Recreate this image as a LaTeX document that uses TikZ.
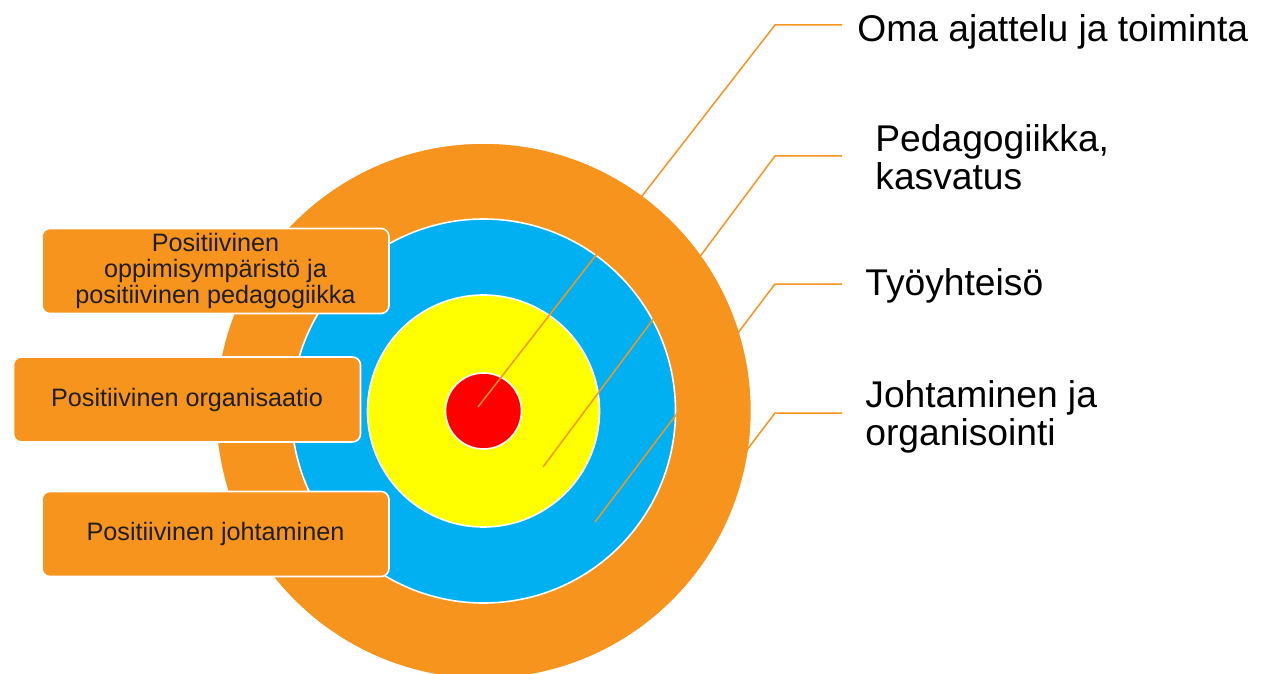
\documentclass[tikz,border=0pt]{standalone}
\usepackage{fontspec}
\setmainfont{Liberation Sans}
\definecolor{RingOrange}{RGB}{247, 148, 30}
\definecolor{RingBlue}{RGB}{0, 176, 240}
\definecolor{RingYellow}{RGB}{255, 255, 0}
\definecolor{RingRed}{RGB}{255, 0, 0}
\definecolor{BoxText}{RGB}{30, 30, 30}

\begin{document}
\begin{tikzpicture}[
    x=0.5pt, y=-0.5pt,
    ring/.style={circle, draw=white, line width=0.8pt, inner sep=0pt},
    level box/.style={rounded corners=4pt, fill=RingOrange, draw=white, line width=0.8pt, minimum width=173.5pt, minimum height=42.5pt, inner sep=1pt, align=center, text=BoxText, font=\fontsize{12.6}{13}\selectfont},
    leader/.style={draw=RingOrange, line width=0.75pt},
    area label/.style={anchor=base west, align=left, inner sep=0pt, font=\fontsize{18.6}{19}\selectfont}
    ]
    \useasboundingbox (0,0) rectangle (1265,674);

    % target rings, outermost first
    \foreach \d/\c/\n in {268/RingOrange/lead, 192/RingBlue/community, 116/RingYellow/pedagogy, 38/RingRed/self}
    \node [ring, fill=\c, minimum size=\d pt] (\n) at (483.5,411) {};

    % leader lines from the rings
    \foreach \i/\sx/\sy/\ky in {1/478/407/25, 2/543/467/156, 3/595/522/284, 4/650/578/413} {
        \coordinate (s\i) at (\sx,\sy);
        \coordinate (k\i) at (775,\ky);
        \coordinate (e\i) at (842,\ky);
        \draw [leader] (s\i) -- (k\i) -- (e\i);
    }

    % ring labels (base = last line)
    \node [area label] (selflabel) at (857,42) {Oma ajattelu ja toiminta};
    \node [area label] (pedlabel) at (875,190) {Pedagogiikka,\\kasvatus};
    \node [area label] (comlabel) at (865,295) {Työyhteisö};
    \node [area label] (leadlabel) at (865,445) {Johtaminen ja\\organisointi};

    % positive approaches
    \node [level box] (posped) at (215.5,271) {Positiivinen\\oppimisympäristö ja\\positiivinen pedagogiikka};
    \node [level box] (posorg) at (187,399.5) {Positiivinen organisaatio};
    \node [level box] (poslead) at (215.5,534) {Positiivinen johtaminen};
\end{tikzpicture}
\end{document}
